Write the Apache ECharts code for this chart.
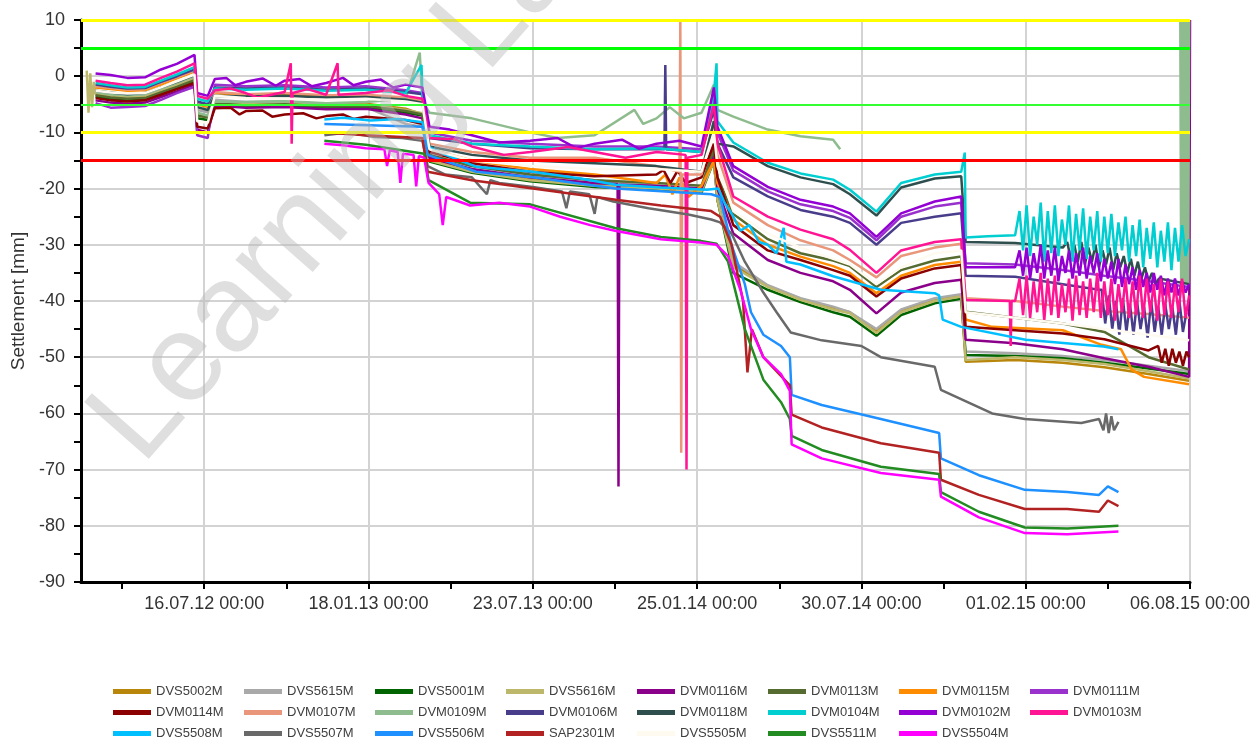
<!DOCTYPE html>
<html>
<head>
<meta charset="utf-8">
<script src="https://cdn.jsdelivr.net/npm/echarts@6/dist/echarts.min.js"></script>
<style>
html, body { margin: 0; padding: 0; background: #fff; }
#chart { width: 1255px; height: 740px; }
</style>
</head>
<body>
<div id="chart"></div>
<script>
// axis ticks: one label every 186 days
const xTickLabels = ['16.07.12 00:00', '18.01.13 00:00', '23.07.13 00:00', '25.01.14 00:00', '30.07.14 00:00', '01.02.15 00:00', '06.08.15 00:00'];
const limitValues = [10, 5, -5, -10, -15];
const limitColors = ['#ffff00', '#00ff00', '#33ff33', '#ffff00', '#ff0000'];

const seriesNames = ['DVS5002M', 'DVS5615M', 'DVS5001M', 'DVS5616M', 'DVM0116M', 'DVM0113M', 'DVM0115M', 'DVM0111M',
  'DVM0114M', 'DVM0107M', 'DVM0109M', 'DVM0106M', 'DVM0118M', 'DVM0104M', 'DVM0102M', 'DVM0103M',
  'DVS5508M', 'DVS5507M', 'DVS5506M', 'SAP2301M', 'DVS5505M', 'DVS5511M', 'DVS5504M'];
const seriesColors = ['#b8860b', '#a9a9a9', '#006400', '#bdb76b', '#8b008b', '#556b2f', '#ff8c00', '#9932cc',
  '#8b0000', '#e9967a', '#8fbc8f', '#483d8b', '#2f4f4f', '#00ced1', '#9400d3', '#ff1493',
  '#00bfff', '#696969', '#1e90ff', '#b22222', '#fffaf0', '#228b22', '#ff00ff'];

// reading dates shared by the DVM01xx / DVS50xx / DVS56xx sensors
const readDates = ['2012-03-15', '2012-04-01', '2012-04-20', '2012-05-10', '2012-05-28', '2012-06-15', '2012-07-05',
  '2012-07-08', '2012-07-20', '2012-07-28', '2012-09-01', '2012-10-15', '2012-12-01', '2013-01-15', '2013-03-01',
  '2013-03-20', '2013-03-28', '2013-05-15', '2013-07-20', '2013-10-01', '2013-12-10', '2014-01-30', '2014-02-13',
  '2014-02-17', '2014-03-07', '2014-04-15', '2014-05-22', '2014-06-28', '2014-07-17', '2014-08-16', '2014-09-13',
  '2014-10-21', '2014-11-20', '2014-11-25', '2015-01-20', '2015-03-15', '2015-05-01', '2015-06-20', '2015-08-05'];

const DVS5002M = [-3.3, -3.6, -3.9, -3.8, -2.8, -1.8, -0.6, -7, -7.3, -4.5, -4.8, -4.7, -5, -4.9, -5.8, -6.8,
  -14.8, -16.8, -18.3, -19.3, -19.8, -20.3, -15, -22, -33.5, -37.3, -39.6, -41.2, -42, -45.4, -41.8, -39.8, -39,
  -50.8, -50.5, -51, -51.8, -53, -54.2];
const DVS5615M = [-3, -3.4, -3.6, -3.5, -2.5, -1.5, -0.3, -6, -6.4, -4.2, -4.6, -4.5, -5, -5.5, -8.5, -9,
  -14, -16, -17.5, -18.5, -19.5, -20, -14, -21, -33, -37.2, -39.5, -41, -42, -45, -41.5, -39.5, -38.8,
  -49, -49.3, -49.8, -50.5, -51.5, -52.5];
const DVS5001M = [-3.6, -4, -4.2, -4.1, -3.1, -2.1, -0.9, -7.5, -7.8, -5, -5.4, -5.3, -5.6, -5.5, -6.5, -7,
  -15.2, -17.2, -18.7, -19.7, -20.2, -20.7, -15, -22, -35, -38, -40.2, -42, -42.8, -46.2, -42.5, -40.4, -39.6,
  -49.6, -49.8, -50.2, -51, -52, -53];
const DVS5616M = [-3.2, -3.5, -3.7, -3.6, -2.6, -1.6, -0.5, -6.8, -7, -4.8, -5, -4.9, -5.2, -5.1, -6, -6.6,
  -15, -17, -18.5, -19.5, -20, -20.5, -15, -22, -34, -37.5, -39.8, -41.5, -42.2, -45.7, -42, -40, -39.2,
  -50.5, -50, -50.5, -51.2, -52.5, -53.8];
const DVS5616M_extra = [['2012-03-05', 1], ['2012-03-07', -6.5], ['2012-03-09', 0.5], ['2012-03-11', -5.5], ['2012-03-13', -1]];
const DVM0116M = [-4.3, -4.7, -4.9, -4.7, -3.7, -2.7, -1.5, -9.5, -10, -5.2, -5.6, -5.5, -5.9, -5.8, -6.8, -7.5,
  -14.5, -16.5, -18, -19, -19.5, -20, -14, -20, -28, -32.7, -35, -36.5, -38, -42.2, -38.5, -36.8, -36.2,
  -46.9, -47.5, -48.6, -50.2, -51.7, -53.5];
const DVM0116M_extra = [['2013-10-27', -19.2], ['2013-10-28', -73], ['2013-10-29', -19.3], ['2015-08-06', 10]];
const DVM0113M = [-3.4, -3.8, -4, -3.9, -2.9, -1.9, -0.7, -7, -7.3, -4.8, -5.2, -5, -5.4, -5.3, -6.2, -6.8,
  -14, -16, -17.5, -18.5, -19, -19.5, -13, -18, -24.5, -29, -31.5, -32.8, -33.8, -37.5, -34.5, -32.8, -32.1,
  -41.9, -43, -44, -45.5, -50, -52.2];
const DVM0115M = [-2, -2.3, -2.6, -2.5, -1.5, -0.4, 0.8, -5, -5.5, -3, -3.4, -3.3, -3.6, -3.5, -4, -4.6,
  -13, -15, -16.5, -17.5, -19, -19.5, -15, -19, -25.5, -30, -32.1, -33.8, -35, -38.6, -35.5, -33.6, -33,
  -43.3, null, -45.2, null, null, -54.8];
const DVM0115M_extra = [['2013-12-20', -17.5], ['2013-12-28', -21], ['2014-01-05', -18], ['2014-01-15', -21.5],
  ['2014-12-25', -44.6], ['2015-04-28', -47.8], ['2015-05-20', -48.6], ['2015-06-01', -52.2], ['2015-06-15', -53.5]];
const DVM0111M = [-4.8, -5.6, -5.5, -5.3, -4.2, -3, -1.9, -10.5, -11, -1.5, -1.8, -1.6, -2, -1.8, -2.5, -3,
  -10, -11.5, -12, -12.5, -12.5, -13, -4, -10, -16.8, -20.5, -22.8, -24, -25.2, -29.2, -25, -23.2, -22.5,
  -33.3, -33.5, -34.5, -35.5, -36.5, -37.5];
const DVM0114M = [-3.9, -4.3, -4.5, -4.3, -3.3, -2.3, -1.2, -9, -9.3, -5.7, -6.2, -6.8, -7.1, -7.2, -7.8, -8.5,
  -13.5, -15.5, -17, -17.8, -17.5, -18, -12, -18, -26.5, -31, -32.7, -34.5, -35.5, -39.2, -36, -34.2, -33.6,
  -44.6, -45.2, -45.8, -46.8, -48.8, -50];
const DVM0114M_extra = [['2012-08-15', -5.6], ['2012-08-25', -6.8], ['2012-09-20', -6.1], ['2012-10-01', -7.2],
  ['2012-11-05', -6.6], ['2012-11-20', -7.5], ['2012-12-20', -6.8], ['2013-01-01', -7.6],
  ['2013-12-18', -16.7], ['2013-12-26', -19], ['2014-01-03', -16.8], ['2014-01-12', -19],
  ['2015-07-01', -48], ['2015-07-05', -51], ['2015-07-09', -48.5], ['2015-07-13', -51.5], ['2015-07-17', -48.5],
  ['2015-07-21', -51], ['2015-07-25', -49], ['2015-07-29', -51.5], ['2015-08-02', -49]];
const DVM0107M = [-1.8, -2.1, -2.4, -2.3, -1.2, -0.2, 1, -4.8, -5.2, -2.8, -3.2, -3, -3.4, -3.3, -3.8, -4.3,
  -12, -13.5, -14.5, -14.5, -16, -17.5, -8, -14, -22.5, -26.5, -29.2, -31, -32.7, -35.8, -32, -30.5, -29.8,
  -39.5, -40, -41, -41.8, -42.3, -43];
const DVM0107M_extra = [['2014-01-05', -17], ['2014-01-06', 10], ['2014-01-07', -67], ['2014-01-08', -17.5]];
const DVM0109M = [-2.8, -3.2, -3.4, -3.2, -2.2, -1.2, 0, -6.5, -7, -4.5, -4.6, -4.4, -4.8, -4.6, -4, -4.5,
  -6.5, -7.5, -10, -10.5, -7.5, -6.5, -1.5, -6, -7.2, -9.5, -10.7, -11.3, null, null, null, null, null,
  null, null, null, null, null, null];
const DVM0109M_extra = [['2013-03-17', 4.2], ['2013-08-20', -11], ['2013-11-15', -6], ['2013-11-25', -8.5],
  ['2013-12-25', -5.5], ['2014-01-10', -7.5], ['2014-07-06', -13], ['2014-07-07', null],
  ['2015-07-26', 10], ['2015-07-27', -37], ['2015-07-28', 10], ['2015-07-29', -37], ['2015-07-30', 10],
  ['2015-07-31', -37], ['2015-08-01', 10], ['2015-08-02', -37], ['2015-08-03', 10], ['2015-08-04', -37], ['2015-08-05', 10]];
const DVM0106M = [-1.5, -1.9, -2.2, -2.1, -1, 0, 1.2, -4.5, -5, -2, -2.2, -2, -2.4, -2.2, -2.8, -3.2,
  -11, -12, -12.8, -13, -13, -13.5, -6, -12, -18, -21.4, -23.8, -25, -26.1, -30, -26.1, -25, -24.4,
  -35.5, -35.7, -37, null, null, null];
const DVM0106M_extra = [['2013-12-19', -13], ['2013-12-20', 2], ['2013-12-21', -13], ['2015-04-25', -38]];
const DVM0106M_band = [-38, -44, -39, -45, -40, -46, -39.5, -45.5, -40.5, -46, -40, -45, -41, -46.5, -40, -45.5,
  -41, -46, -40.5, -45, -41, -46, -40, -45.5, -42];
const DVM0118M = [-2.6, -2.9, -3.2, -3, -2, -1, 0.2, -5.5, -6, -3.5, -3.6, -3.5, -3.8, -3.7, -4.2, -4.7,
  -12.5, -14, -15, -15.5, -16, -17, -8, -12, -12.5, -16, -18, -19.2, -21, -24.8, -19.8, -18.2, -17.8,
  -29.5, -29.7, -30.5, null, null, -37];
const DVM0118M_band = [-29.5, -32.5, -30, -33, -29.5, -33.5, -30.5, -33, -30, -34, -31, -33.5, -30.5, -34.5,
  -31.5, -34, -32, -35, -32.5, -35.5, -33, -36, -34, -36.5, -35, -37, -36];
const DVM0104M = [-1.2, -1.6, -2, -1.9, -0.8, 0.3, 1.6, -4, -4.5, -2.2, -2.4, -2.2, -2.6, -2.4, -3, -3.5,
  -10.5, -12, -12.5, -13, -12.8, -13.5, -3, -8, -11.8, -15.4, -17.3, -18.4, -20.2, -24.1, -19, -17.5, -17,
  -28.7, -28.3, null, null, null, null];
const DVM0104M_extra = [['2013-03-19', 2], ['2014-02-16', 2.3], ['2014-11-24', -13.6], ['2014-12-20', -28.5]];
const DVM0104M_band = [-24, -31, -23, -32, -25, -30, -22.5, -33, -24, -31.5, -23, -32, -25.5, -30, -23, -33,
  -24.5, -31, -23.5, -32.5, -25, -31, -24, -33, -25, -31.5, -24.5, -32, -26, -31, -25, -33, -26.5, -32, -25.5,
  -34, -27, -32.5, -26, -34, -27.5, -33, -26, -34.5, -27, -33, -26.5, -32, -29];
const DVM0102M = [0.5, 0.2, -0.3, -0.2, 1.2, 2.2, 3.8, -3, -3.5, -0.5, -1, -0.8, -1.2, -1, -1.5, -2,
  -9, -10.5, -11.5, -12, -12, -12.5, -2, -9, -16, -19.7, -22, -23.2, -24.4, -28.6, -24.4, -22.3, -21.4,
  -34, -34, null, null, null, null];
const DVM0102M_extra = [['2012-08-10', -0.3], ['2012-08-20', -1.6], ['2012-09-20', -0.4], ['2012-10-05', -1.7],
  ['2012-11-01', -0.5], ['2012-11-15', -1.8], ['2012-12-20', -0.3], ['2013-01-01', -1.6], ['2013-02-01', -0.6],
  ['2013-02-15', -2], ['2013-04-20', -9.5], ['2013-06-15', -11.8], ['2013-08-20', -11], ['2013-09-10', -12.8],
  ['2013-11-01', -11.3], ['2013-11-20', -12.9], ['2014-01-05', -11.5]];
const DVM0102M_band = [-31, -35.5, -30.5, -36, -31.5, -35, -30, -36, -31, -35.5, -30.5, -36.5, -32, -35, -31,
  -36, -31.5, -35.5, -30.5, -36, -32, -35, -31.5, -36.5, -32.5, -36, -33, -37, -32.5, -37.5, -33.5, -37, -34,
  -38, -34.5, -37.5, -35, -38.5, -35, -38, -35.5, -39, -36, -38.5, -36, -39, -36.5, -38.5, -37];
const DVM0103M = [-0.8, -1.2, -1.6, -1.5, -0.3, 0.8, 2.3, -3.5, -4, -2.5, -3, -2.8, -3.3, -3, -3.5, -4,
  -11, -12.5, -13.5, -13.5, -13.5, -14, -5, -12, -21.4, -25, -27.3, -29, -30.9, -35, -31, -29.5, -29,
  -39.8, -40, null, null, null, null];
const DVM0103M_extra = [['2012-08-15', -2.2], ['2012-09-15', -3.8], ['2012-10-22', 2.3], ['2012-10-23', -12],
  ['2012-10-24', -3], ['2012-11-10', -2.3], ['2012-12-14', 2.3], ['2012-12-15', -3.3], ['2013-02-10', -2.5],
  ['2013-04-25', -11.2], ['2013-06-20', -14], ['2013-09-01', -12.6], ['2013-11-05', -14.5],
  ['2014-01-12', -14], ['2014-01-13', -70], ['2014-01-14', -14.5],
  ['2015-01-14', -40], ['2015-01-15', -48], ['2015-01-16', -40]];
const DVM0103M_band = [-36, -42.5, -35.5, -43, -36.5, -42, -35, -43.5, -36, -42.5, -35.5, -43, -37, -42, -36,
  -43.5, -35.5, -42.5, -36.5, -43, -36, -42, -35, -43, -36.5, -42.5, -36, -43.5, -37, -42, -36, -43, -36.5,
  -42.5, -35.5, -43, -36, -42, -37, -43.5, -36, -42.5, -36.5, -43, -37, -42, -36, -43, -39];
const DVS5505M = [-2.6, -2.9, -3.1, -3, -2, -0.9, 0.3, -8, -8.3, -3.5, -3.9, -4, -4.2, -4, -4.5, -5,
  -13, -15, -16, -16.5, -16.5, -17, -10, -16, -24, -28, -30.5, -32.5, -33.5, -37, -34, -31.5, -31,
  -42, -43, -44, -45, -46, -47];

// DVS55xx and SAP2301M start later and have their own reading dates
const DVS5508M = [['2012-11-29', -7.7], ['2012-12-20', -7.4], ['2013-01-20', -7.9], ['2013-02-20', -7.6],
  ['2013-03-20', -8.2], ['2013-03-26', -12.5], ['2013-04-15', -14], ['2013-05-20', -16.1], ['2013-07-23', -17],
  ['2013-09-15', -18.2], ['2013-10-25', -19.3], ['2013-12-15', -19.8], ['2014-02-05', -20.2], ['2014-02-18', -20],
  ['2014-02-25', -22.5], ['2014-03-07', -25], ['2014-03-15', -27.5], ['2014-03-25', -26.5], ['2014-04-05', -29.5],
  ['2014-04-15', -30], ['2014-04-25', -31.5], ['2014-05-03', -27], ['2014-05-06', -33], ['2014-05-22', -33.5],
  ['2014-06-28', -35.6], ['2014-08-21', -38], ['2014-10-21', -38.6], ['2014-10-26', -39], ['2014-10-30', -43.3],
  ['2014-11-20', -44.6], ['2015-02-01', -46.9], ['2015-04-30', -48.1], ['2015-05-17', -48.6]];
const DVS5507M = [['2012-11-29', -10.5], ['2012-12-25', -10], ['2013-01-25', -10.8], ['2013-02-25', -11],
  ['2013-03-20', -11.5], ['2013-03-26', -16], ['2013-04-15', -17.5], ['2013-05-15', -18], ['2013-06-01', -21],
  ['2013-06-05', -18.5], ['2013-06-15', -19], ['2013-07-23', -19.7], ['2013-08-25', -20.5], ['2013-08-30', -23.5],
  ['2013-09-03', -20.5], ['2013-09-25', -21], ['2013-10-01', -24.5], ['2013-10-04', -21.5], ['2013-10-22', -22.3],
  ['2013-12-01', -23.5], ['2014-01-15', -24.6], ['2014-02-10', -25.5], ['2014-02-20', -26], ['2014-03-05', -28],
  ['2014-03-20', -33], ['2014-04-10', -38.5], ['2014-04-25', -42], ['2014-05-11', -45.6], ['2014-06-15', -47],
  ['2014-07-30', -48], ['2014-08-21', -50], ['2014-10-21', -51.7], ['2014-10-28', -55.8], ['2014-12-25', -60],
  ['2015-01-31', -61], ['2015-04-05', -61.7], ['2015-04-25', -61], ['2015-04-30', -63], ['2015-05-03', -60],
  ['2015-05-06', -63.5], ['2015-05-09', -60.5], ['2015-05-12', -63], ['2015-05-17', -61.5]];
const DVS5506M = [['2012-11-29', -8.5], ['2013-03-20', -9], ['2013-03-26', -14], ['2013-05-20', -17],
  ['2013-07-23', -18], ['2013-10-25', -20], ['2014-02-10', -21], ['2014-02-20', -21.5], ['2014-03-05', -30],
  ['2014-03-20', -37], ['2014-03-27', -42], ['2014-04-10', -46], ['2014-04-30', -48], ['2014-05-10', -50],
  ['2014-05-12', -56.7], ['2014-06-15', -58.5], ['2014-08-21', -61], ['2014-10-26', -63.5], ['2014-10-28', -68],
  ['2014-12-10', -71], ['2015-01-31', -73.6], ['2015-03-20', -74], ['2015-04-25', -74.5], ['2015-05-05', -73],
  ['2015-05-17', -74]];
const SAP2301M = [['2012-11-29', -10], ['2013-01-15', -10.5], ['2013-03-20', -11], ['2013-03-26', -17],
  ['2013-05-15', -18.5], ['2013-07-23', -20], ['2013-10-25', -22], ['2013-12-15', -23], ['2014-02-10', -24],
  ['2014-02-20', -25], ['2014-03-05', -30], ['2014-03-18', -40], ['2014-03-23', -52.7], ['2014-03-28', -45],
  ['2014-04-10', -50], ['2014-05-10', -55], ['2014-05-12', -60.2], ['2014-06-15', -62.5], ['2014-08-21', -65.3],
  ['2014-10-26', -67], ['2014-10-28', -71.8], ['2014-12-10', -74.5], ['2015-01-31', -77], ['2015-03-20', -77],
  ['2015-04-25', -77.5], ['2015-05-05', -75.5], ['2015-05-17', -76.5]];
const DVS5511M = [['2012-11-29', -11.5], ['2013-01-15', -12.2], ['2013-03-22', -13.8], ['2013-03-27', -18.5],
  ['2013-05-13', -22.5], ['2013-07-20', -22.8], ['2013-10-24', -27], ['2013-12-15', -28.6], ['2014-01-29', -29.3],
  ['2014-02-16', -29.8], ['2014-03-01', -33], ['2014-03-20', -45], ['2014-04-10', -54], ['2014-04-30', -58],
  ['2014-05-10', -61], ['2014-05-12', -64], ['2014-06-15', -66.5], ['2014-08-21', -69.5], ['2014-10-26', -70.8],
  ['2014-10-28', -74], ['2014-12-10', -77.5], ['2015-01-31', -80.3], ['2015-03-20', -80.5], ['2015-05-17', -80]];
const DVS5504M = [['2012-11-29', -12], ['2012-12-20', -12.3], ['2013-01-15', -12.8], ['2013-02-05', -13],
  ['2013-02-08', -16], ['2013-02-11', -13.2], ['2013-02-20', -13.5], ['2013-02-23', -19], ['2013-02-26', -13.8],
  ['2013-03-10', -14], ['2013-03-13', -19.6], ['2013-03-16', -14.2], ['2013-03-22', -14.5], ['2013-03-27', -19],
  ['2013-04-08', -21], ['2013-04-12', -26.5], ['2013-04-16', -21.5], ['2013-05-13', -23], ['2013-06-15', -22.5],
  ['2013-07-20', -23.2], ['2013-08-23', -25], ['2013-09-26', -26.5], ['2013-10-24', -27.5], ['2013-12-15', -29],
  ['2014-01-29', -29.6], ['2014-02-16', -30], ['2014-03-01', -32], ['2014-03-15', -38], ['2014-03-27', -45],
  ['2014-04-10', -50], ['2014-04-30', -53], ['2014-05-10', -56], ['2014-05-12', -65.5], ['2014-06-15', -68],
  ['2014-08-21', -70.6], ['2014-10-26', -71.8], ['2014-10-28', -74.8], ['2014-12-10', -78.5], ['2015-01-31', -81.3],
  ['2015-03-20', -81.5], ['2015-05-17', -81]];

const DAY = 864e5;
function toMs(d) {
  if (typeof d === 'number') return d;
  const p = d.split('-').map(Number);
  return Date.UTC(p[0], p[1] - 1, p[2]);
}
// noisy stretches read every few days
function band(start, step, values) {
  const t0 = toMs(start);
  return values.map((v, i) => [t0 + i * step * DAY, v]);
}
function build(values, extra) {
  let pts = [];
  if (values) values.forEach((v, i) => { if (v !== null) pts.push([readDates[i], v]); });
  if (extra) pts = pts.concat(extra);
  return pts.map(p => [toMs(p[0]), p[1] === null ? '-' : p[1]]).sort((a, b) => a[0] - b[0]);
}

const seriesData = [
  build(DVS5002M), build(DVS5615M), build(DVS5001M), build(DVS5616M, DVS5616M_extra),
  build(DVM0116M, DVM0116M_extra), build(DVM0113M), build(DVM0115M, DVM0115M_extra), build(DVM0111M),
  build(DVM0114M, DVM0114M_extra), build(DVM0107M, DVM0107M_extra), build(DVM0109M, DVM0109M_extra),
  build(DVM0106M, DVM0106M_extra.concat(band('2015-04-28', 4, DVM0106M_band))),
  build(DVM0118M, band('2015-03-20', 4, DVM0118M_band)),
  build(DVM0104M, DVM0104M_extra.concat(band('2015-01-25', 4, DVM0104M_band))),
  build(DVM0102M, DVM0102M_extra.concat(band('2015-01-25', 4, DVM0102M_band))),
  build(DVM0103M, DVM0103M_extra.concat(band('2015-01-25', 4, DVM0103M_band))),
  build(null, DVS5508M), build(null, DVS5507M), build(null, DVS5506M), build(null, SAP2301M),
  build(DVS5505M), build(null, DVS5511M), build(null, DVS5504M)
];

// x range: the axis starts 139.5 days before the first label, ticks every 93 days
const xStart = toMs('2012-07-16') - 139.5 * DAY;
const xEnd = toMs('2015-08-06');
const slotLabels = [];
for (let i = 0; i < 28; i++) slotLabels.push(i % 4 === 3 ? xTickLabels[(i - 3) / 4] : '');

const font = "'Liberation Sans', Arial, sans-serif";
const chart = echarts.init(document.getElementById('chart'));

const series = seriesNames.map((name, i) => ({
  name: name,
  type: 'line',
  xAxisIndex: 0,
  data: seriesData[i],
  showSymbol: false,
  symbol: 'none',
  color: seriesColors[i],
  lineStyle: { width: 2.5, color: seriesColors[i] },
  emphasis: { disabled: true },
  connectNulls: false
}));
series.push({
  name: 'limits',
  type: 'line',
  xAxisIndex: 0,
  data: [],
  z: 10,
  markLine: {
    silent: true,
    symbol: ['none', 'none'],
    label: { show: false },
    data: limitValues.map((v, i) => ({
      yAxis: v,
      lineStyle: { color: limitColors[i], width: v === -5 ? 2 : 3, type: 'solid' }
    }))
  }
});

chart.setOption({
  animation: false,
  backgroundColor: '#fff',
  textStyle: { fontFamily: font },
  grid: { left: 81, top: 20, width: 1109, height: 562, containLabel: false },
  xAxis: [
    { type: 'time', min: xStart, max: xEnd, show: false },
    {
      type: 'category',
      data: slotLabels,
      boundaryGap: false,
      position: 'bottom',
      axisLine: { lineStyle: { color: '#000', width: 3 } },
      axisTick: { interval: (idx) => idx % 2 === 1, length: 7, lineStyle: { color: '#000', width: 2 } },
      axisLabel: { interval: (idx) => idx % 4 === 3, fontSize: 18, color: '#333', margin: 13, fontFamily: font },
      splitLine: { show: true, interval: (idx) => idx % 4 === 3, lineStyle: { color: '#d3d3d3', width: 2 } }
    }
  ],
  yAxis: {
    type: 'value',
    min: -90,
    max: 10,
    interval: 10,
    name: 'Settlement [mm]',
    nameLocation: 'middle',
    nameGap: 52,
    nameTextStyle: { fontSize: 19, color: '#333', fontFamily: font },
    axisLine: { show: true, lineStyle: { color: '#000', width: 3 } },
    axisTick: { show: true, length: 7, lineStyle: { color: '#000', width: 2 } },
    minorTick: { show: true, splitNumber: 2, length: 7, lineStyle: { color: '#000', width: 2 } },
    axisLabel: { fontSize: 18, color: '#333', margin: 16, fontFamily: font },
    splitLine: { show: true, lineStyle: { color: '#d3d3d3', width: 2 } }
  },
  legend: {
    data: seriesNames,
    left: 113,
    top: 685,
    width: 1050,
    padding: 0,
    icon: 'rect',
    itemWidth: 38,
    itemHeight: 5,
    itemGap: 8,
    selectedMode: false,
    textStyle: { fontSize: 13, color: '#404040', width: 80, lineHeight: 11, fontFamily: font }
  },
  graphic: [{
    type: 'text',
    x: 163,
    y: 485,
    rotation: 0.85,
    z: 100,
    silent: true,
    style: {
      text: 'Learning Lab',
      font: "125px 'Liberation Sans', Arial, sans-serif",
      fill: 'rgba(185,185,185,0.45)',
      textVerticalAlign: 'bottom'
    }
  }],
  series: series
});
</script>
</body>
</html>
